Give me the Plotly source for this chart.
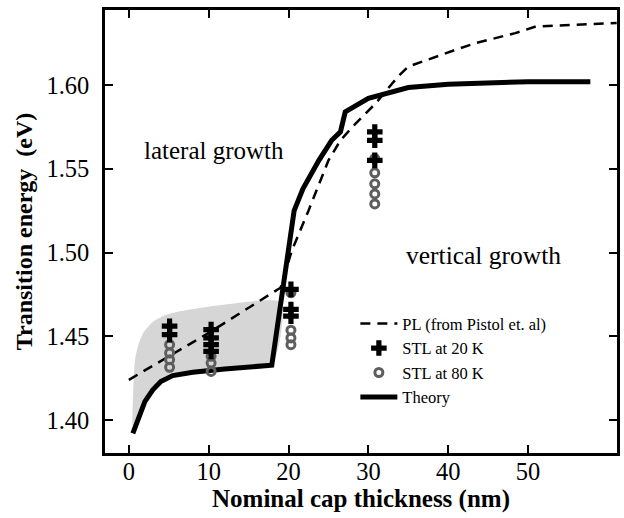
import plotly.graph_objects as go

# PL curve (from Pistol et al.)
pl_x = [0, 10, 19.0, 20.4, 22.5, 25.0, 26.5, 28.4, 30.9, 33.7, 35.0, 38.4, 40.9, 43.4, 45.9, 48.4, 51.0, 61.1]
pl_y = [1.424, 1.452, 1.479, 1.501, 1.525, 1.555, 1.567, 1.577, 1.589, 1.605, 1.611, 1.617, 1.621, 1.625, 1.628, 1.631, 1.635, 1.637]

# Theory curve
th_x = [0.5, 1.0, 2.0, 3.0, 4.0, 5.5, 8.0, 12.0, 17.9, 20.7, 21.8, 23.8, 25.4, 26.5, 27.1, 30.0, 32.5, 35.0, 40.0, 46.0, 50.0, 57.8]
th_y = [1.392, 1.399, 1.411, 1.418, 1.423, 1.4265, 1.4285, 1.4305, 1.4327, 1.525, 1.538, 1.555, 1.567, 1.572, 1.584, 1.592, 1.595, 1.5985, 1.6005, 1.6015, 1.602, 1.602]

# Upper edge of the shaded band (lateral growth regime)
band_x = [0.5, 0.6, 0.8, 1.2, 1.8, 3.0, 4.5, 6.0, 11.3, 19.05]
band_y = [1.392, 1.425, 1.437, 1.445, 1.452, 1.4585, 1.4625, 1.4645, 1.4685, 1.4702]

# STL at 20 K
stl20_x = [5.1, 5.1, 10.3, 10.3, 10.3, 10.3, 20.3, 20.3, 20.3, 30.8, 30.8, 30.8]
stl20_y = [1.456, 1.451, 1.454, 1.449, 1.445, 1.441, 1.478, 1.466, 1.462, 1.572, 1.567, 1.555]

# STL at 80 K
stl80_x = [5.1, 5.1, 5.1, 5.1, 10.3, 10.3, 10.3, 20.3, 20.3, 20.3, 20.3, 30.8, 30.8, 30.8, 30.8, 30.8]
stl80_y = [1.445, 1.440, 1.436, 1.4315, 1.438, 1.434, 1.429, 1.476, 1.4536, 1.449, 1.445, 1.556, 1.5476, 1.541, 1.535, 1.529]

# Shaded polygon: band top edge, then back along the theory curve
low_x = [x for x in th_x if x <= 17.9]
low_y = th_y[:len(low_x)]
poly_x = band_x + low_x[::-1]
poly_y = band_y + low_y[::-1]

FONT = "Liberation Serif"

fig = go.Figure()
fig.add_trace(go.Scatter(x=poly_x, y=poly_y, fill="toself", fillcolor="#d6d6d6",
                         line=dict(width=0, shape="spline", smoothing=0.6), mode="lines",
                         showlegend=False, hoverinfo="skip"))
fig.add_trace(go.Scatter(x=th_x, y=th_y, mode="lines", name="Theory",
                         line=dict(color="black", width=5), legendrank=4))
fig.add_trace(go.Scatter(x=pl_x, y=pl_y, mode="lines", name="PL (from Pistol et. al)",
                         line=dict(color="black", width=2.5, dash="10px,7px"), legendrank=1))
fig.add_trace(go.Scatter(x=stl80_x, y=stl80_y, mode="markers", name="STL at 80 K",
                         marker=dict(symbol="circle-open", size=8, color="#5e5e5e",
                                     line=dict(width=3, color="#5e5e5e")), legendrank=3))
fig.add_trace(go.Scatter(x=stl20_x, y=stl20_y, mode="markers", name="STL at 20 K",
                         marker=dict(symbol="cross", size=13, color="black",
                                     line=dict(width=0)), legendrank=2))

fig.add_annotation(x=10.6, y=1.5612, xref="x", yref="y", text="lateral growth",
                   showarrow=False, font=dict(family=FONT, size=25, color="black"))
fig.add_annotation(x=44.4, y=1.4985, xref="x", yref="y", text="vertical growth",
                   showarrow=False, font=dict(family=FONT, size=25.5, color="black"))

axis_common = dict(showline=True, linecolor="black", linewidth=2.5, mirror="allticks",
                   ticks="inside", ticklen=8, tickwidth=2, tickcolor="black",
                   showgrid=False, zeroline=False,
                   tickfont=dict(family=FONT, size=24.5, color="black"))

fig.update_xaxes(range=[-2.99, 61.14], tickvals=[0, 10, 20, 30, 40, 50],
                 title=dict(text="<b>Nominal cap thickness (nm)</b>",
                            font=dict(family=FONT, size=25, color="black"), standoff=0),
                 ticklabelstandoff=-5, **axis_common)
fig.update_yaxes(range=[1.3803, 1.6448], tickvals=[1.40, 1.45, 1.50, 1.55, 1.60],
                 tickformat=".2f",
                 title=dict(text="<b>Transition energy\u00a0 (eV)</b>",
                            font=dict(family=FONT, size=24, color="black"), standoff=8),
                 ticklabelstandoff=8, **axis_common)

fig.update_layout(
    width=624, height=518,
    margin=dict(l=105, r=4, t=10, b=65),
    plot_bgcolor="white", paper_bgcolor="white",
    font=dict(family=FONT, color="black"),
    legend=dict(x=0.489, y=0.331, xanchor="left", yanchor="top",
                bgcolor="rgba(0,0,0,0)", borderwidth=0,
                font=dict(family=FONT, size=16.5, color="black"),
                itemwidth=37, tracegroupgap=0),
)

fig.write_html("out.html")
